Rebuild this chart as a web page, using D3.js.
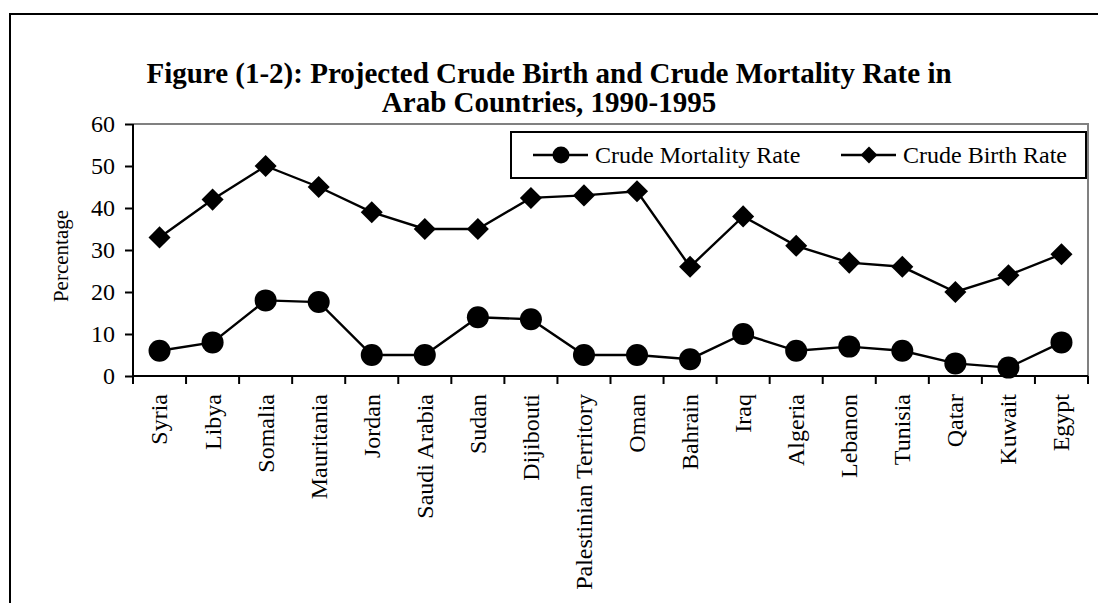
<!DOCTYPE html>
<html>
<head>
<meta charset="utf-8">
<script src="https://cdn.jsdelivr.net/npm/d3@7"></script>
<style>
  html, body { margin: 0; padding: 0; background: #fff; }
  svg { display: block; }
  text { font-family: "Liberation Serif", "Times New Roman", serif !important; fill: #000; }
</style>
</head>
<body>
<svg id="chart" width="1098" height="603"></svg>
<script>
const categories = ["Syria", "Libya", "Somalia", "Mauritania", "Jordan", "Saudi Arabia", "Sudan", "Dijibouti",
  "Palestinian Territory", "Oman", "Bahrain", "Iraq", "Algeria", "Lebanon", "Tunisia", "Qatar", "Kuwait", "Egypt"];
const mortalityRate = [6, 8, 18, 17.6, 5, 5, 14, 13.5, 5, 5, 4, 10, 6, 7, 6, 3, 2, 8];
const birthRate = [33, 42, 50, 45, 39, 35, 35, 42.4, 43, 44, 26, 38, 31, 27, 26, 20, 24, 29];
const yTicks = [0, 10, 20, 30, 40, 50, 60];
const titleLines = ["Figure (1-2): Projected Crude Birth and Crude Mortality Rate in", "Arab Countries, 1990-1995"];
const yTitle = "Percentage";
const seriesNames = ["Crude Mortality Rate", "Crude Birth Rate"];

const svg = d3.select("#chart");
const L = 133, R = 1088, T = 124, B = 376;
const serif = "'Liberation Serif', 'Times New Roman', serif";

// outer frame
svg.append("rect").attr("x", 10).attr("y", 14).attr("width", 1100).attr("height", 620)
  .attr("fill", "none").attr("stroke", "#000").attr("stroke-width", 2);

// title
svg.append("g").selectAll("text").data(titleLines).join("text")
  .attr("x", 549).attr("y", (d, i) => 83 + i * 29)
  .attr("text-anchor", "middle").attr("font-weight", "bold").attr("font-size", 29)
  .style("font-family", serif)
  .text(d => d);

const x = d3.scaleBand().domain(categories).range([L, R]);
const y = d3.scaleLinear().domain([0, 60]).range([B, T]);

// plot area gray top & right border
svg.append("path").attr("d", `M${L},${T}H${R}V${B}`).attr("fill", "none")
  .attr("stroke", "#808080").attr("stroke-width", 2);

// y axis
const yAxis = svg.append("g").attr("transform", `translate(${L},0)`)
  .call(d3.axisLeft(y).tickValues(yTicks).tickSize(8).tickPadding(10).tickFormat(d3.format("d")));
yAxis.attr("font-family", null);
yAxis.select(".domain").attr("stroke", "#000").attr("stroke-width", 2).attr("d", `M0,${T}V${B}`);
yAxis.selectAll(".tick line").attr("stroke", "#000").attr("stroke-width", 2);
yAxis.selectAll(".tick text").attr("font-size", 24).style("font-family", serif).attr("fill", "#000");

// x axis
const xAxis = svg.append("g").attr("transform", `translate(0,${B})`)
  .call(d3.axisBottom(x).tickSize(0).tickFormat(""));
xAxis.select(".domain").attr("stroke", "#000").attr("stroke-width", 2).attr("d", `M${L},0H${R}`);
xAxis.selectAll(".tick").remove();
const boundaries = categories.map(c => x(c)).concat([R]);
xAxis.selectAll("line.bt").data(boundaries).join("line").attr("class", "bt")
  .attr("x1", d => d).attr("x2", d => d).attr("y1", 0).attr("y2", 8)
  .attr("stroke", "#000").attr("stroke-width", 2);
svg.append("g").selectAll("text").data(categories).join("text")
  .attr("transform", d => `translate(${x(d) + x.bandwidth() / 2},${B + 18}) rotate(-90)`)
  .attr("text-anchor", "end").attr("dy", "0.33em").attr("font-size", 24)
  .style("font-family", serif)
  .text(d => d);

// y title
svg.append("text").attr("transform", `translate(68,${256}) rotate(-90)`)
  .attr("text-anchor", "middle").attr("font-size", 21).style("font-family", serif).text(yTitle);

// series
const cx = d => x(d) + x.bandwidth() / 2;
const line = d3.line().x(d => cx(d[0])).y(d => y(d[1]));
const diamond = d3.symbol().type(d3.symbolDiamond2);

function drawSeries(vals, kind) {
  const pts = categories.map((c, i) => [c, vals[i]]);
  svg.append("path").datum(pts).attr("d", line).attr("fill", "none")
    .attr("stroke", "#000").attr("stroke-width", 2.4);
  if (kind === "circle") {
    svg.append("g").selectAll("circle").data(pts).join("circle")
      .attr("cx", d => cx(d[0])).attr("cy", d => y(d[1])).attr("r", 11).attr("fill", "#000");
  } else {
    svg.append("g").selectAll("path").data(pts).join("path")
      .attr("transform", d => `translate(${cx(d[0])},${y(d[1])})`)
      .attr("d", diamond.size(310)).attr("fill", "#000");
  }
}
drawSeries(birthRate, "diamond");
drawSeries(mortalityRate, "circle");

// legend
const lg = svg.append("g");
lg.append("rect").attr("x", 511).attr("y", 132).attr("width", 575).attr("height", 46)
  .attr("fill", "#fff").attr("stroke", "#000").attr("stroke-width", 2);
const items = [{ name: seriesNames[0], x0: 533, kind: "circle" }, { name: seriesNames[1], x0: 841, kind: "diamond" }];
items.forEach(it => {
  lg.append("line").attr("x1", it.x0).attr("x2", it.x0 + 55).attr("y1", 155).attr("y2", 155)
    .attr("stroke", "#000").attr("stroke-width", 2.4);
  if (it.kind === "circle") {
    lg.append("circle").attr("cx", it.x0 + 28).attr("cy", 155).attr("r", 8.5).attr("fill", "#000");
  } else {
    lg.append("path").attr("transform", `translate(${it.x0 + 28},155)`)
      .attr("d", diamond.size(180)).attr("fill", "#000");
  }
  lg.append("text").attr("x", it.x0 + 62).attr("y", 155).attr("dy", "0.33em")
    .attr("font-size", 24).style("font-family", serif).text(it.name);
});
</script>
</body>
</html>
